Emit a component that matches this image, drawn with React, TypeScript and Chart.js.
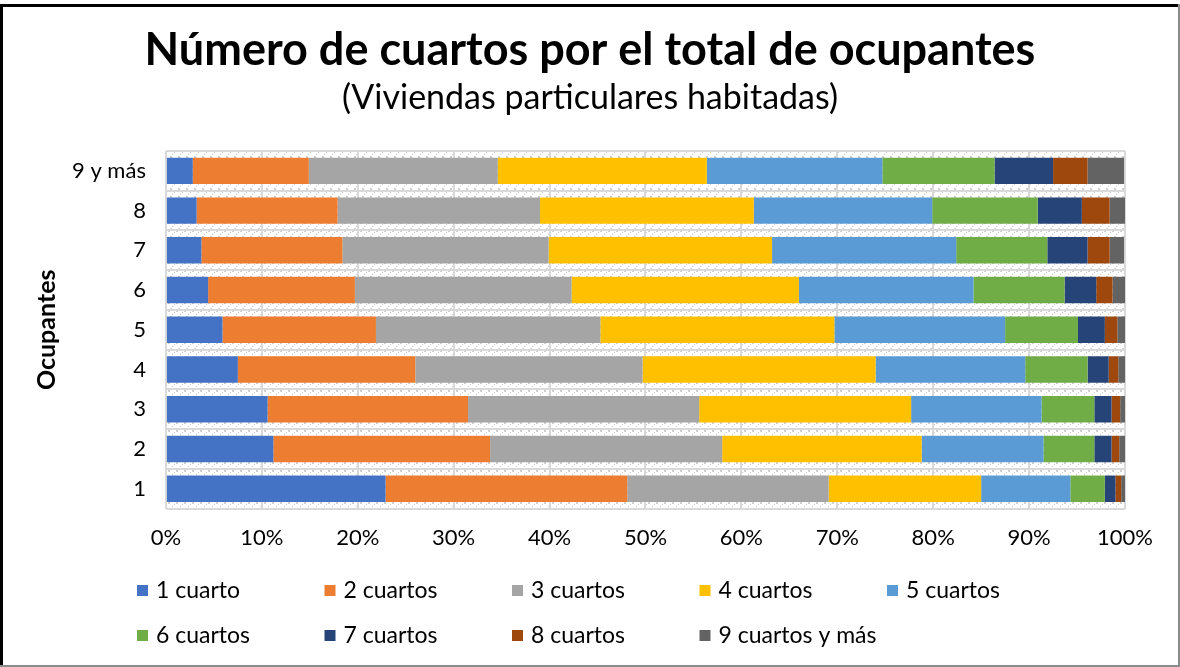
import React, { useEffect, useRef } from "react";
import { Chart, registerables } from "chart.js";

Chart.register(...registerables);

const FONT = "Lato, 'Gill Sans', 'Noto Sans', sans-serif";

const titleText = "Número de cuartos por el total de ocupantes";
const subtitleText = "(Viviendas particulares habitadas)";
const categories = ["1", "2", "3", "4", "5", "6", "7", "8", "9 y más"];
const seriesNames = [
  "1 cuarto",
  "2 cuartos",
  "3 cuartos",
  "4 cuartos",
  "5 cuartos",
  "6 cuartos",
  "7 cuartos",
  "8 cuartos",
  "9 cuartos y más",
];
const cuarto1 = [22.9, 11.2, 10.6, 7.5, 5.9, 4.4, 3.7, 3.2, 2.8];
const cuartos2 = [25.2, 22.6, 20.9, 18.5, 16.0, 15.3, 14.7, 14.7, 12.1];
const cuartos3 = [21.0, 24.2, 24.1, 23.7, 23.4, 22.6, 21.5, 21.1, 19.7];
const cuartos4 = [15.9, 20.8, 22.1, 24.3, 24.4, 23.7, 23.3, 22.3, 21.8];
const cuartos5 = [9.3, 12.7, 13.6, 15.6, 17.8, 18.2, 19.2, 18.6, 18.3];
const cuartos6 = [3.6, 5.3, 5.5, 6.5, 7.6, 9.5, 9.5, 11.0, 11.7];
const cuartos7 = [1.1, 1.8, 1.8, 2.2, 2.8, 3.3, 4.2, 4.6, 6.1];
const cuartos8 = [0.6, 0.8, 0.9, 1.0, 1.3, 1.7, 2.3, 2.9, 3.6];
const cuartos9 = [0.4, 0.6, 0.6, 0.7, 0.9, 1.3, 1.5, 1.6, 3.8];
const seriesValues = [cuarto1, cuartos2, cuartos3, cuartos4, cuartos5, cuartos6, cuartos7, cuartos8, cuartos9];
const seriesColors = [
  "#4472C4",
  "#ED7D31",
  "#A5A5A5",
  "#FFC000",
  "#5B9BD5",
  "#70AD47",
  "#264478",
  "#9E480E",
  "#636363",
];
const xTickValues = [0, 10, 20, 30, 40, 50, 60, 70, 80, 90, 100];

function makePattern(ctx: CanvasRenderingContext2D) {
  const tile = document.createElement("canvas");
  tile.width = 8;
  tile.height = 8;
  const t = tile.getContext("2d")!;
  t.fillStyle = "#ffffff";
  t.fillRect(0, 0, 8, 8);
  t.fillStyle = "#CFCFCF";
  t.fillRect(0, 6, 2, 2);
  t.fillRect(2, 4, 2, 2);
  t.fillRect(4, 2, 1, 1);
  t.fillRect(6, 0, 1, 1);
  return ctx.createPattern(tile, "repeat");
}

const backgroundPlugin = {
  id: "bgPattern",
  beforeDraw(chart: any) {
    const { ctx, chartArea, width, height } = chart;
    ctx.save();
    ctx.fillStyle = "#ffffff";
    ctx.fillRect(0, 0, width, height);
    const p = makePattern(ctx);
    if (p) {
      ctx.fillStyle = p;
      ctx.fillRect(chartArea.left, chartArea.top, chartArea.right - chartArea.left, chartArea.bottom - chartArea.top);
    }
    // outer frame
    ctx.fillStyle = "#000000";
    ctx.fillRect(0, 4, width, 3);
    ctx.fillRect(0, 4, 3, height - 4);
    ctx.fillStyle = "#8c8c8c";
    ctx.fillRect(width - 2, 4, 2, height - 4);
    ctx.fillRect(0, height - 2, width, 2);
    // titles
    ctx.fillStyle = "#000";
    ctx.textAlign = "center";
    ctx.textBaseline = "middle";
    ctx.font = `bold 45px ${FONT}`;
    ctx.fillText(titleText, width / 2, 50);
    ctx.font = `34px ${FONT}`;
    ctx.fillText(subtitleText, width / 2, 98);
    ctx.restore();
  },
};

const legendPlugin = {
  id: "gridLegend",
  afterDraw(chart: any) {
    const ctx = chart.ctx;
    const startX = 137;
    const colW = 187.5;
    const rowY = [591, 636];
    const perRow = 5;
    ctx.save();
    chart.data.datasets.forEach((ds: any, i: number) => {
      const r = Math.floor(i / perRow);
      const c = i % perRow;
      const x = startX + c * colW;
      const y = rowY[r];
      ctx.fillStyle = ds.backgroundColor;
      ctx.fillRect(x, y - 6, 11, 11);
      ctx.fillStyle = "#000";
      ctx.font = `23px ${FONT}`;
      ctx.textBaseline = "middle";
      ctx.textAlign = "left";
      ctx.fillText(ds.label, x + 19, y);
    });
    ctx.restore();
  },
};

export default function App() {
  const ref = useRef<HTMLCanvasElement | null>(null);
  useEffect(() => {
    if (!ref.current) return;
    const chart = new Chart(ref.current, {
      type: "bar",
      data: {
        labels: categories,
        datasets: seriesNames.map((name, i) => ({
          label: name,
          data: seriesValues[i],
          backgroundColor: seriesColors[i],
          borderWidth: 0,
          barPercentage: 0.665,
          categoryPercentage: 1,
        })),
      },
      options: {
        indexAxis: "y",
        animation: false,
        responsive: false,
        maintainAspectRatio: false,
        layout: { padding: { left: 20, right: 55, top: 151, bottom: 100 } },
        plugins: {
          legend: { display: false },
          tooltip: { enabled: false },
          title: { display: false },
        },
        scales: {
          x: {
            type: "linear",
            stacked: true,
            min: 0,
            max: 100,
            afterBuildTicks: (axis: any) => {
              axis.ticks = xTickValues.map((v) => ({ value: v }));
            },
            ticks: {
              color: "#000",
              font: { family: FONT, size: 22 },
              padding: 16,
              callback: (v: any) => `${v}%`,
            },
            grid: { color: "#D9D9D9", lineWidth: 2, drawTicks: false },
            border: { display: false },
          },
          y: {
            type: "category",
            stacked: true,
            reverse: true,
            ticks: {
              color: "#000",
              font: { family: FONT, size: 22 },
              padding: 20,
            },
            grid: { color: "#D9D9D9", lineWidth: 2, drawTicks: false, offset: true },
            border: { display: false },
            title: {
              display: true,
              text: "Ocupantes",
              color: "#000",
              font: { family: FONT, size: 25, weight: "bold" },
              padding: { top: 12, bottom: -10 },
            },
          },
        },
      },
      plugins: [backgroundPlugin, legendPlugin],
    } as any);
    return () => chart.destroy();
  }, []);
  return (
    <div style={{ position: "absolute", left: 0, top: 0, width: 1180, height: 667 }}>
      <canvas ref={ref} width={1180} height={667} style={{ display: "block", width: 1180, height: 667 }} />
    </div>
  );
}
